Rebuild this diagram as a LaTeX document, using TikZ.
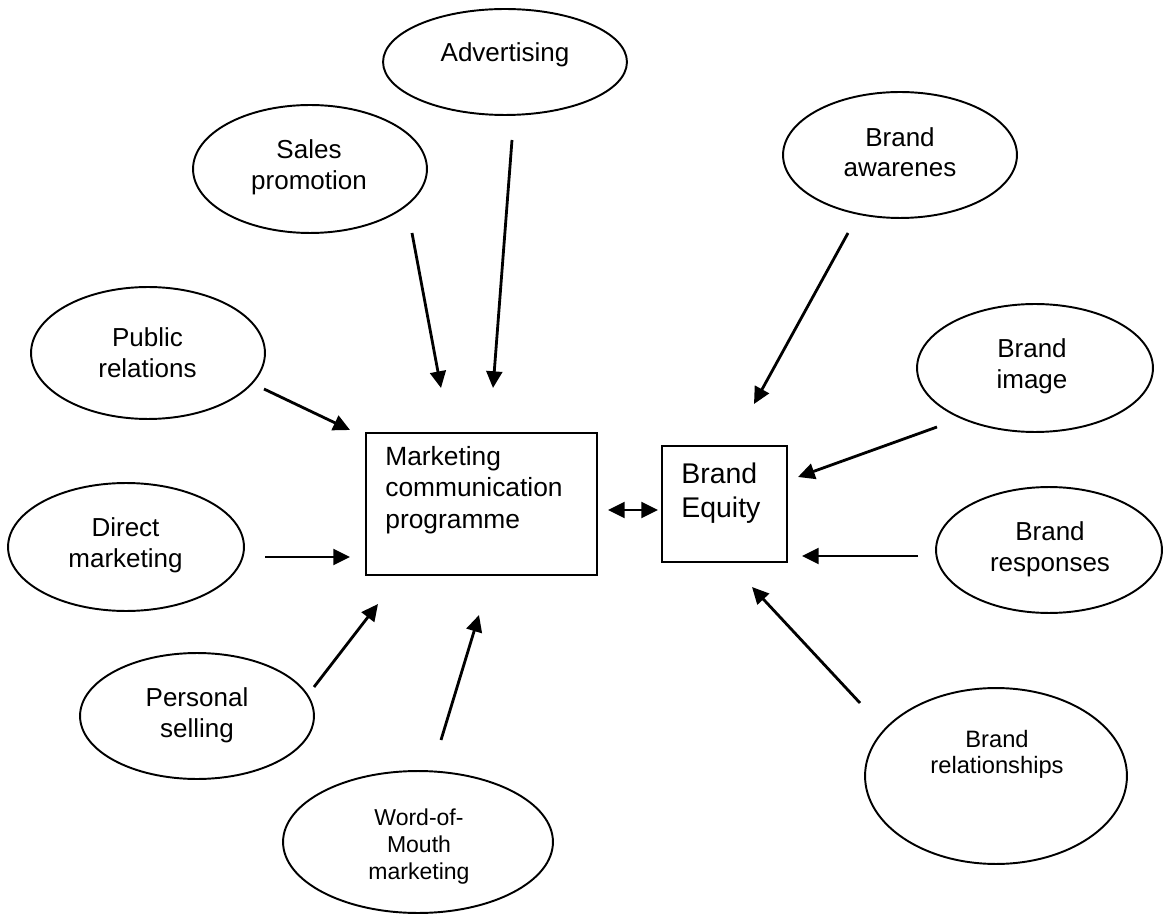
\documentclass[tikz,border=0pt]{standalone}
\usepackage{fontspec}
\setmainfont{Liberation Sans}
\usetikzlibrary{positioning,arrows.meta,shapes.geometric}
\tikzset{arrowStyle/.style={
    -{Triangle[length=9.5pt,width=9pt]},
    line width=1.6pt}
}
\tikzset{ovalNode/.style 2 args={
    ellipse,
    draw,
    line width=1.1pt,
    inner sep=0pt,
    minimum width=#1*0.04cm,
    minimum height=#2*0.04cm}
}
\tikzset{boxNode/.style 2 args={
    rectangle,
    draw,
    line width=1.1pt,
    inner sep=0pt,
    minimum width=#1*0.02cm,
    minimum height=#2*0.02cm}
}
\tikzset{ovalText/.style={
    align=center,
    inner sep=0pt,
    font=\fontsize{14.8}{17.4}\selectfont}
}
\tikzset{smallText/.style={
    align=center,
    inner sep=0pt,
    font=\fontsize{13.2}{15.4}\selectfont}
}

\begin{document}
\begin{tikzpicture}[x=0.02cm,y=-0.02cm]
      \useasboundingbox (0,0) rectangle (1176,918);

      % ovals on the left side
      \node[ovalNode={122}{53}] (adv) at (505,62) {};
      \node[ovalText] (advText) at (505,55) {Advertising};

      \node[ovalNode={117}{64}] (sp) at (310,169) {};
      \node[ovalText] (spText) at (309,167.5) {Sales\\promotion};

      \node[ovalNode={117}{66}] (pr) at (148,353) {};
      \node[ovalText] (prText) at (147.5,352.7) {Public\\relations};

      \node[ovalNode={118}{64}] (dm) at (126,547) {};
      \node[ovalText] (dmText) at (125.5,545.5) {Direct\\marketing};

      \node[ovalNode={117}{63}] (ps) at (197,716) {};
      \node[ovalText] (psText) at (197,715.5) {Personal\\selling};

      \node[ovalNode={135}{71}] (wom) at (418,842) {};
      \node[smallText,font=\fontsize{13.1}{15.6}\selectfont]
      (womText) at (419,846.6) {Word-of-\\Mouth\\marketing};

      % ovals on the right side
      \node[ovalNode={117}{63}] (ba) at (900,155) {};
      \node[ovalText] (baText) at (900,152) {Brand\\awarenes};

      \node[ovalNode={118}{64}] (bi) at (1035,368) {};
      \node[ovalText] (biText) at (1032,366.5) {Brand\\image};

      \node[ovalNode={113}{63}] (br) at (1049,550) {};
      \node[ovalText] (brText) at (1050,549) {Brand\\responses};

      \node[ovalNode={131}{88}] (brel) at (996,776) {};
      \node[smallText,font=\fontsize{13.5}{14.8}\selectfont]
      (brelText) at (997,754) {Brand\\relationships};

      % the two boxes
      \node[boxNode={231}{142}] (mcp) at (481.5,504) {};
      \node[ovalText,align=left,anchor=west,
            font=\fontsize{15}{17.9}\selectfont]
      (mcpText) at (385,490) {Marketing\\communication\\programme};

      \node[boxNode={125}{116}] (be) at (724.5,504) {};
      \node[ovalText,align=left,anchor=west,
            font=\fontsize{16.2}{19.3}\selectfont]
      (beText) at (681,493) {Brand\\Equity};

      % arrow ends
      \coordinate (spFrom) at (412,233);
      \coordinate (spTo) at (441,388);
      \coordinate (advFrom) at (512,140);
      \coordinate (advTo) at (493,388);
      \coordinate (prFrom) at (264,389);
      \coordinate (prTo) at (350,430);
      \coordinate (dmFrom) at (265,557);
      \coordinate (dmTo) at (350,557);
      \coordinate (psFrom) at (314,687);
      \coordinate (psTo) at (378,604);
      \coordinate (womFrom) at (441,740);
      \coordinate (womTo) at (479,615);
      \coordinate (baFrom) at (848,233);
      \coordinate (baTo) at (754,404);
      \coordinate (biFrom) at (937,427);
      \coordinate (biTo) at (798,477);
      \coordinate (brFrom) at (918,556);
      \coordinate (brTo) at (802,556);
      \coordinate (brelFrom) at (860,703);
      \coordinate (brelTo) at (752,587);
      \coordinate (mcpEnd) at (608,510);
      \coordinate (beEnd) at (658,510);

      \draw[arrowStyle] (spFrom) -- (spTo);
      \draw[arrowStyle] (advFrom) -- (advTo);
      \draw[arrowStyle] (prFrom) -- (prTo);
      \draw[arrowStyle] (dmFrom) -- (dmTo);
      \draw[arrowStyle] (psFrom) -- (psTo);
      \draw[arrowStyle] (womFrom) -- (womTo);
      \draw[arrowStyle] (baFrom) -- (baTo);
      \draw[arrowStyle] (biFrom) -- (biTo);
      \draw[arrowStyle] (brFrom) -- (brTo);
      \draw[arrowStyle] (brelFrom) -- (brelTo);
      \draw[arrowStyle,{Triangle[length=9.5pt,width=9pt]}-{Triangle[length=9.5pt,width=9pt]}]
      (mcpEnd) -- (beEnd);
\end{tikzpicture}
\end{document}
